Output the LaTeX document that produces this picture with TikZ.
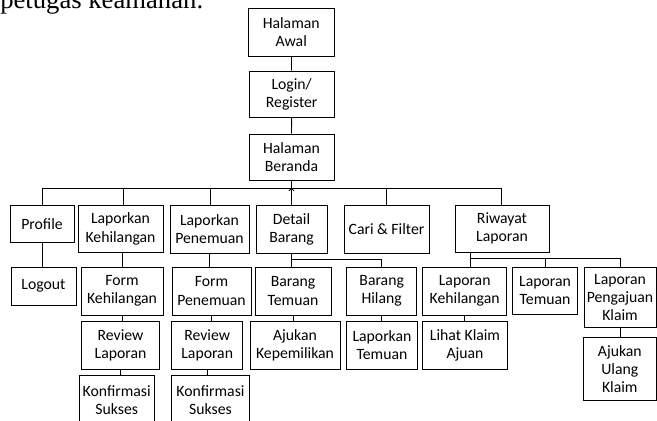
\documentclass[tikz,border=0pt]{standalone}
\usepackage{fontspec}
\setmainfont{Carlito}
\newfontfamily\serifbody{Liberation Serif}
\usetikzlibrary{calc}
\usetikzlibrary{arrows.meta}
\tikzset{
  menubox/.style 2 args={draw, line width=0.6pt, align=center, inner sep=0pt,
    minimum width=#1*0.75pt, minimum height=#2*0.75pt,
    font=\fontsize{11.8}{13.6}\selectfont},
  link/.style={line width=0.6pt}
}

\begin{document}
\begin{tikzpicture}[x=0.75pt,y=-0.75pt]
\useasboundingbox (0,0) rectangle (657,421);
\node[anchor=base west, inner sep=0pt, font=\serifbody\fontsize{20}{24}\selectfont] (caption) at (0,8.8) {petugas keamanan.};
% top chain
\node[menubox={85.5}{47.7}] (awal) at (291.2,32.2) {Halaman\\Awal};
\node[menubox={84.7}{46}] (login) at (291.7,94) {Login/\\Register};
\node[menubox={85}{46}] (beranda) at (291.5,157) {Halaman\\Beranda};
% level 1
\node[menubox={64}{37.7}] (profile) at (42,223.9) {Profile};
\node[menubox={85}{47.7}] (lapkeh) at (120.5,228.9) {Laporkan\\Kehilangan};
\node[menubox={79}{48}] (lappen) at (209.5,229) {Laporkan\\Penemuan};
\node[menubox={71}{48}] (detail) at (291.5,229) {Detail\\Barang};
\node[menubox={85}{48}] (cari) at (386.5,229) {Cari \& Filter};
\node[menubox={94}{47}] (riwayat) at (502,228.5) {Riwayat\\Laporan};
% level 2
\node[menubox={65}{38}] (logout) at (43.5,286) {Logout};
\node[menubox={82}{48}] (formkeh) at (122,291) {Form\\Kehilangan};
\node[menubox={79}{48}] (formpen) at (211.5,291) {Form\\Penemuan};
\node[menubox={76}{48}] (brgtemu) at (293,291) {Barang\\Temuan};
\node[menubox={70}{48}] (brghilang) at (381.7,291) {Barang\\Hilang};
\node[menubox={84}{48}] (rlapkeh) at (464.7,291) {Laporan\\Kehilangan};
\node[menubox={64.6}{47}] (rlaptemu) at (545,290.5) {Laporan\\Temuan};
\node[menubox={72}{60.5}] (rlapaju) at (620,297.3) {Laporan\\Pengajuan\\Klaim};
% level 3
\node[menubox={77.6}{48.3}] (review1) at (120.5,345.2) {Review\\Laporan};
\node[menubox={71}{48}] (review2) at (207.2,345) {Review\\Laporan};
\node[menubox={90}{48}] (ajukan) at (295,345) {Ajukan\\Kepemilikan};
\node[menubox={70.6}{48}] (laptemuan) at (382,345) {Laporkan\\Temuan};
\node[menubox={84.6}{48}] (lihat) at (465,345) {Lihat Klaim\\Ajuan};
\node[menubox={72.5}{63.2}] (ajulang) at (619.8,369.1) {Ajukan\\Ulang\\Klaim};
% level 4
\node[menubox={74.7}{48}] (konf1) at (116.7,399.7) {Konfirmasi\\Sukses};
\node[menubox={77.6}{48}] (konf2) at (210.5,399.7) {Konfirmasi\\Sukses};

\draw[link] (awal) -- (login);
\draw[link] (login) -- (beranda);
\coordinate (bus) at (291.5,188.3);
\draw[link] (beranda) -- (bus);
\foreach \n/\dx in {profile/0,lapkeh/2.5,lappen/0.5,cari/0.2,riwayat/-0.3}
  \draw[link] (bus) -| ($(\n.north)+(\dx,0)$);
\draw[link,-{Straight Barb[length=1.5pt,width=4pt]}] (detail.north) -- (bus);
\draw[link] (profile) -- (profile |- logout.north);
\draw[link] (formkeh.north) -- (formkeh.north |- lapkeh.south);
\draw[link] (lappen) -- (lappen |- formpen.north);
\draw[link] (detail.south) -- (detail.south |- brgtemu.north);
\draw[link] (detail.south) ++(0,6) -| (brghilang.north);
\coordinate (rbus) at (470,258.3);
\draw[link] (rbus |- riwayat.south) -- (rbus);
\draw[link] (rbus) -- (rbus |- rlapkeh.north);
\foreach \n in {rlaptemu,rlapaju}
  \draw[link] (rbus) -| (\n.north);
\foreach \p/\c in {formkeh/review1,formpen/review2,brgtemu/ajukan,brghilang/laptemuan,rlapkeh/lihat,review1/konf1,review2/konf2}
  \draw[link] (\c.north -| \p.south) -- (\p.south);
\draw[link] (rlapaju) -- (rlapaju |- ajulang.north);
\end{tikzpicture}
\end{document}
